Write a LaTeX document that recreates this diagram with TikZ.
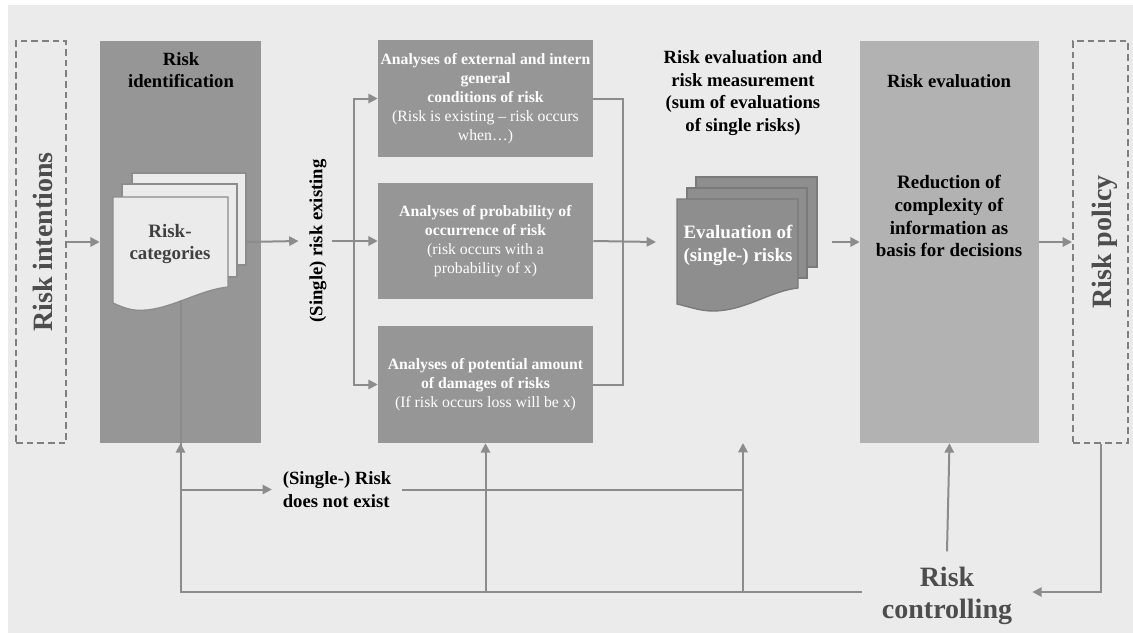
\documentclass[tikz,border=0pt]{standalone}
\usepackage{fontspec}
\setmainfont{Liberation Serif}
\usetikzlibrary{arrows.meta,calc}
\definecolor{bgc}{HTML}{EBEBEB}
\definecolor{lnc}{HTML}{8C8C8C}
\definecolor{dashc}{HTML}{808080}
\definecolor{identc}{HTML}{969696}
\definecolor{anac}{HTML}{969696}
\definecolor{evc}{HTML}{8E8E8E}
\definecolor{evb}{HTML}{7A7A7A}
\definecolor{revc}{HTML}{B2B2B2}
\definecolor{catc}{HTML}{404040}
\definecolor{bigc}{HTML}{4D4D4D}
\begin{document}
\begin{tikzpicture}[x=0.75pt,y=-0.75pt,
  arr/.style={draw=lnc, line width=1.5pt, -{Triangle[length=7pt,width=7pt]}},
  ln/.style={draw=lnc, line width=1.5pt},
  dashbox/.style={draw=dashc, dash pattern=on 5pt off 3pt, line width=1.5pt, inner sep=0pt},
  fillbox/.style={inner sep=0pt, draw=none},
  lbl/.style={font=\bfseries\fontsize{14}{17}\selectfont, align=center, text=black},
  atxt/.style={font=\fontsize{11.8}{14.25}\selectfont, align=center, text=white},
  bigtxt/.style={font=\bfseries\fontsize{21}{24}\selectfont, text=bigc, align=center},
  doctxt/.style={font=\bfseries\fontsize{14.2}{17.2}\selectfont, align=center},
  sheetL/.style={fill=bgc, draw=lnc, line width=1pt},
  sheetD/.style={fill=evc, draw=evb, line width=1pt}
]
\useasboundingbox (0,0) rectangle (1133,633);
\fill[white] (0,0) rectangle (1133,633);
\fill[bgc] (7.5,5) rectangle (1133,633);

% left dashed box
\node[dashbox, minimum width=37.5pt, minimum height=301.5pt] (intent) at (41,242) {};
\node[bigtxt] (intentlbl) at (43,242) {\rotatebox{90}{Risk intentions}};

% risk identification
\node[fillbox, fill=identc, minimum width=120.75pt, minimum height=301.5pt] (ident) at (180.5,242) {};
\node[lbl] (identlbl) at (181,70) {Risk\\identification};
\draw[sheetL] (132,173) rectangle (246,265);
\draw[sheetL] (122,184) rectangle (237,277);
\draw[sheetL] (113,197) -- (228,197) -- (228,287) .. controls (200,290) and (175,307) .. (147,310) .. controls (135,311) and (128,310) .. (113,303) -- cycle;
\node[doctxt, text=catc] (cats) at (170,244) {Risk-\\categories};

% (Single) risk existing
\node[lbl, inner xsep=8pt] (exist) at (318,241) {\rotatebox{90}{(Single) risk existing}};

% analysis boxes
\node[fillbox, fill=anac, minimum width=161.25pt, minimum height=87.75pt, atxt] (top) at (485.5,98.5)
  {\textbf{Analyses of external and intern}\\\textbf{general}\\\textbf{conditions of risk}\\(Risk is existing – risk occurs\\when…)};
\node[fillbox, fill=anac, minimum width=161.25pt, minimum height=87pt, atxt] (mid) at (485.5,241)
  {\textbf{Analyses of probability of}\\\textbf{occurrence of risk}\\(risk occurs with a\\probability of x)};
\node[fillbox, fill=anac, minimum width=161.25pt, minimum height=87.75pt, atxt] (bot) at (485.5,384.5)
  {\textbf{Analyses of potential amount}\\\textbf{of damages of risks}\\(If risk occurs loss will be x)};

% risk evaluation and measurement
\node[lbl] (measlbl) at (743,93) {Risk evaluation and\\risk measurement\\(sum of evaluations\\of single risks)};
\draw[sheetD] (696,177) rectangle (817,267);
\draw[sheetD] (687,188) rectangle (807,278);
\draw[sheetD] (677,199) -- (798,199) -- (798,288) .. controls (770,291) and (745,311) .. (713,311) .. controls (700,311) and (690,307) .. (677,304) -- cycle;
\node[doctxt, text=white] (evtxt) at (738,245) {Evaluation of\\(single-) risks};

% risk evaluation box
\node[fillbox, fill=revc, minimum width=134.25pt, minimum height=301.5pt] (reval) at (949.5,242) {};
\node[lbl] (revallbl) at (949,81) {Risk evaluation};
\node[doctxt, text=black] (redlbl) at (949,216) {Reduction of\\complexity of\\information as\\basis for decisions};

% risk policy
\node[dashbox, minimum width=41.25pt, minimum height=301.5pt] (policy) at (1100.5,242) {};
\node[bigtxt] (policylbl) at (1104.5,242) {\rotatebox{90}{Risk policy}};

% lower labels
\node[lbl, align=left, inner xsep=8pt] (nex) at (337,489.5) {(Single-) Risk\\does not exist};
\node[bigtxt, inner xsep=15pt, inner ysep=11.25pt] (ctrl) at (947,595.5) {Risk\\controlling};

% coordinates
\coordinate (catsR) at (246,242);
\coordinate (split) at (354,242);
\coordinate (join) at (623,242);
\coordinate (evL) at (656,242);
\coordinate (evR) at (832,242);
\coordinate (evB) at (743,443);
\coordinate (docB) at (180.5,300);
\coordinate (cw) at ([yshift=2.6pt]ctrl.west);
\coordinate (ce) at ([yshift=2.6pt]ctrl.east);

% connectors
\draw[arr] (intent.east) -- (ident.west);
\draw[arr] (catsR) -- (exist.west);
\draw[arr] ([xshift=-4pt]exist.east) -- (mid.west);
\draw[arr] (split) |- (top.west);
\draw[arr] (split) |- (bot.west);
\draw[ln] (top.east) -| (join);
\draw[ln] (bot.east) -| (join);
\draw[arr] (mid.east) -- (evL);
\draw[arr] (evR) -- (reval.west);
\draw[arr] (reval.east) -- (policy.west);

\draw[arr] (policy.south) |- (ce);
\draw[arr] (cw) -| (ident.south);
\draw[arr] (cw -| bot.south) -- (bot.south);
\draw[arr] (cw -| evB) -- (evB);
\draw[arr] (ctrl.north) -- (reval.south);
\draw[arr] (docB) |- (nex.west);
\draw[ln] (nex.east) -- (nex.east -| evB);
\end{tikzpicture}
\end{document}
